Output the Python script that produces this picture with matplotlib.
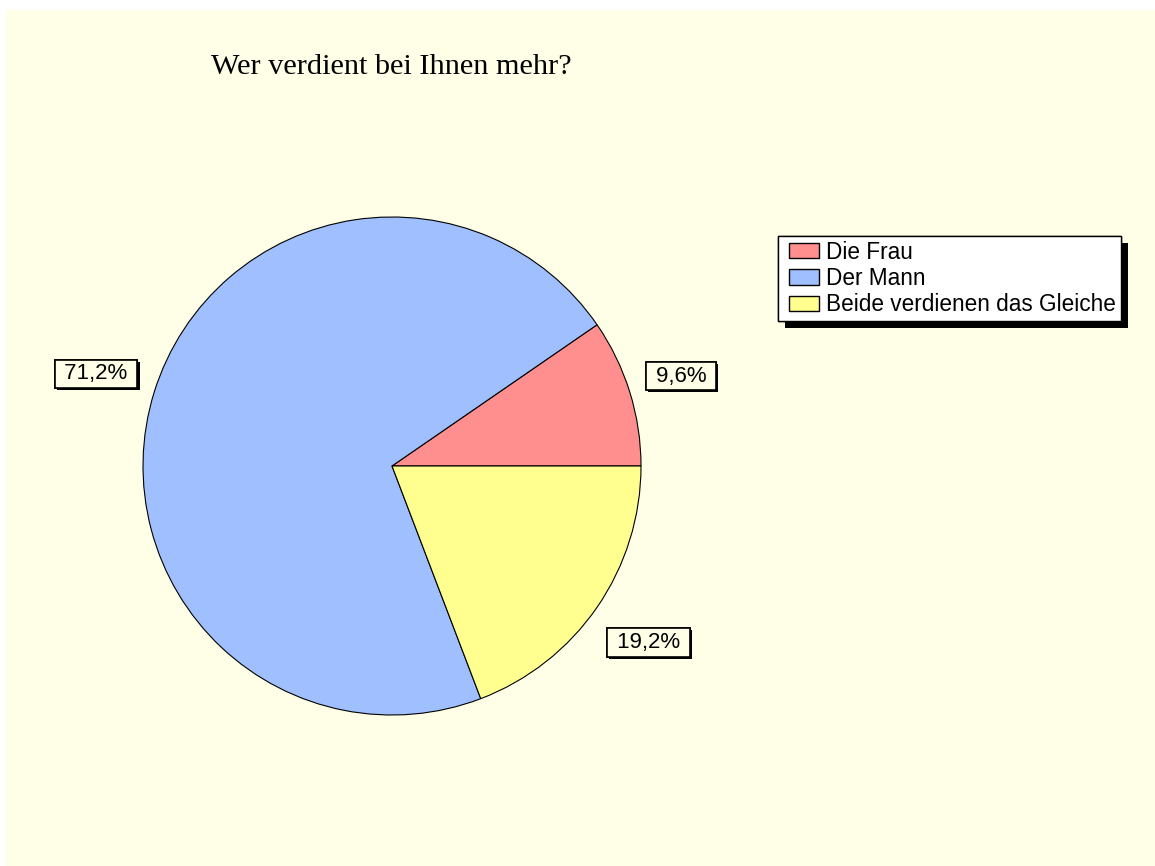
import matplotlib
matplotlib.use("Agg")
import numpy as np
import matplotlib.pyplot as plt
from matplotlib.patches import Patch, Rectangle
from matplotlib.legend_handler import HandlerPatch
import matplotlib.patheffects as pe

categories = ["Die Frau", "Der Mann", "Beide verdienen das Gleiche"]
values = [9.6, 71.2, 19.2]
colors = ["#FF8F8F", "#A0BFFF", "#FFFF90"]
title = "Wer verdient bei Ihnen mehr?"
label_dist = [1.215, 1.245, 1.25]

BG = "#FFFFE7"
W, H = 1155, 866
fig = plt.figure(figsize=(W / 100, H / 100), dpi=100, facecolor="white")
fig.patches.append(Rectangle((6 / W, 0), 1 - 6 / W, 1 - 10 / H, transform=fig.transFigure,
                             facecolor=BG, edgecolor="none", zorder=-10))

cx, cy, r = 392, 466, 249
ax = fig.add_axes([(cx - r) / W, (H - cy - r) / H, 2 * r / W, 2 * r / H])
ax.set_facecolor("none")
ax.axis("off")

wedges, texts, autotexts = ax.pie(
    values, colors=colors, startangle=0, counterclock=True, radius=1,
    wedgeprops=dict(edgecolor="black", linewidth=0.8),
    autopct=lambda p: " " + f"{p:.1f}".replace(".", ",") + "% ",
    pctdistance=1.24, frame=False)

for w, t, d in zip(wedges, autotexts, label_dist):
    ang = np.deg2rad((w.theta1 + w.theta2) / 2)
    t.set_position((d * np.cos(ang), d * np.sin(ang)))
    t.set_fontfamily("Liberation Sans")
    t.set_fontsize(16)
    t.set_color("black")
    t.set_bbox(dict(boxstyle="square,pad=0.17", facecolor=BG, edgecolor="black", linewidth=1.2))
    t.get_bbox_patch().set_path_effects([
        pe.withSimplePatchShadow(offset=(1.5, -1.5), shadow_rgbFace="black", alpha=1.0),
        pe.Normal()])
ax.set_xlim(-1, 1)
ax.set_ylim(-1, 1)
ax.set_aspect("equal")

fig.text(391.5 / W, 1 - 67 / H, title, ha="center", va="center",
         fontfamily="Liberation Serif", fontsize=21.8, color="black")


def right_patch(legend, orig_handle, xdescent, ydescent, width, height, fontsize):
    pw = 30 * 72 / 100  # patch width in points
    return Rectangle((-xdescent + width - pw, -ydescent), pw, height)


handles = [Patch(facecolor=c, edgecolor="black", linewidth=1.0) for c in colors]
leg = fig.legend(handles, categories, loc="upper left",
                 bbox_to_anchor=(778 / W, 1 - 236 / H), bbox_transform=fig.transFigure,
                 borderaxespad=0, frameon=True, fancybox=False, framealpha=1,
                 facecolor="white", edgecolor="black",
                 prop=dict(family="Liberation Sans", size=16.3),
                 handlelength=1.6, handleheight=0.65, handletextpad=0.33,
                 labelspacing=0.15, borderpad=0.2,
                 handler_map={Patch: HandlerPatch(patch_func=right_patch)})
leg.get_frame().set_linewidth(1.0)
leg.get_frame().set_path_effects([
    pe.withSimplePatchShadow(offset=(5, -5), shadow_rgbFace="black", alpha=1.0),
    pe.Normal()])

fig.savefig("out.png", dpi=100, facecolor="white")
